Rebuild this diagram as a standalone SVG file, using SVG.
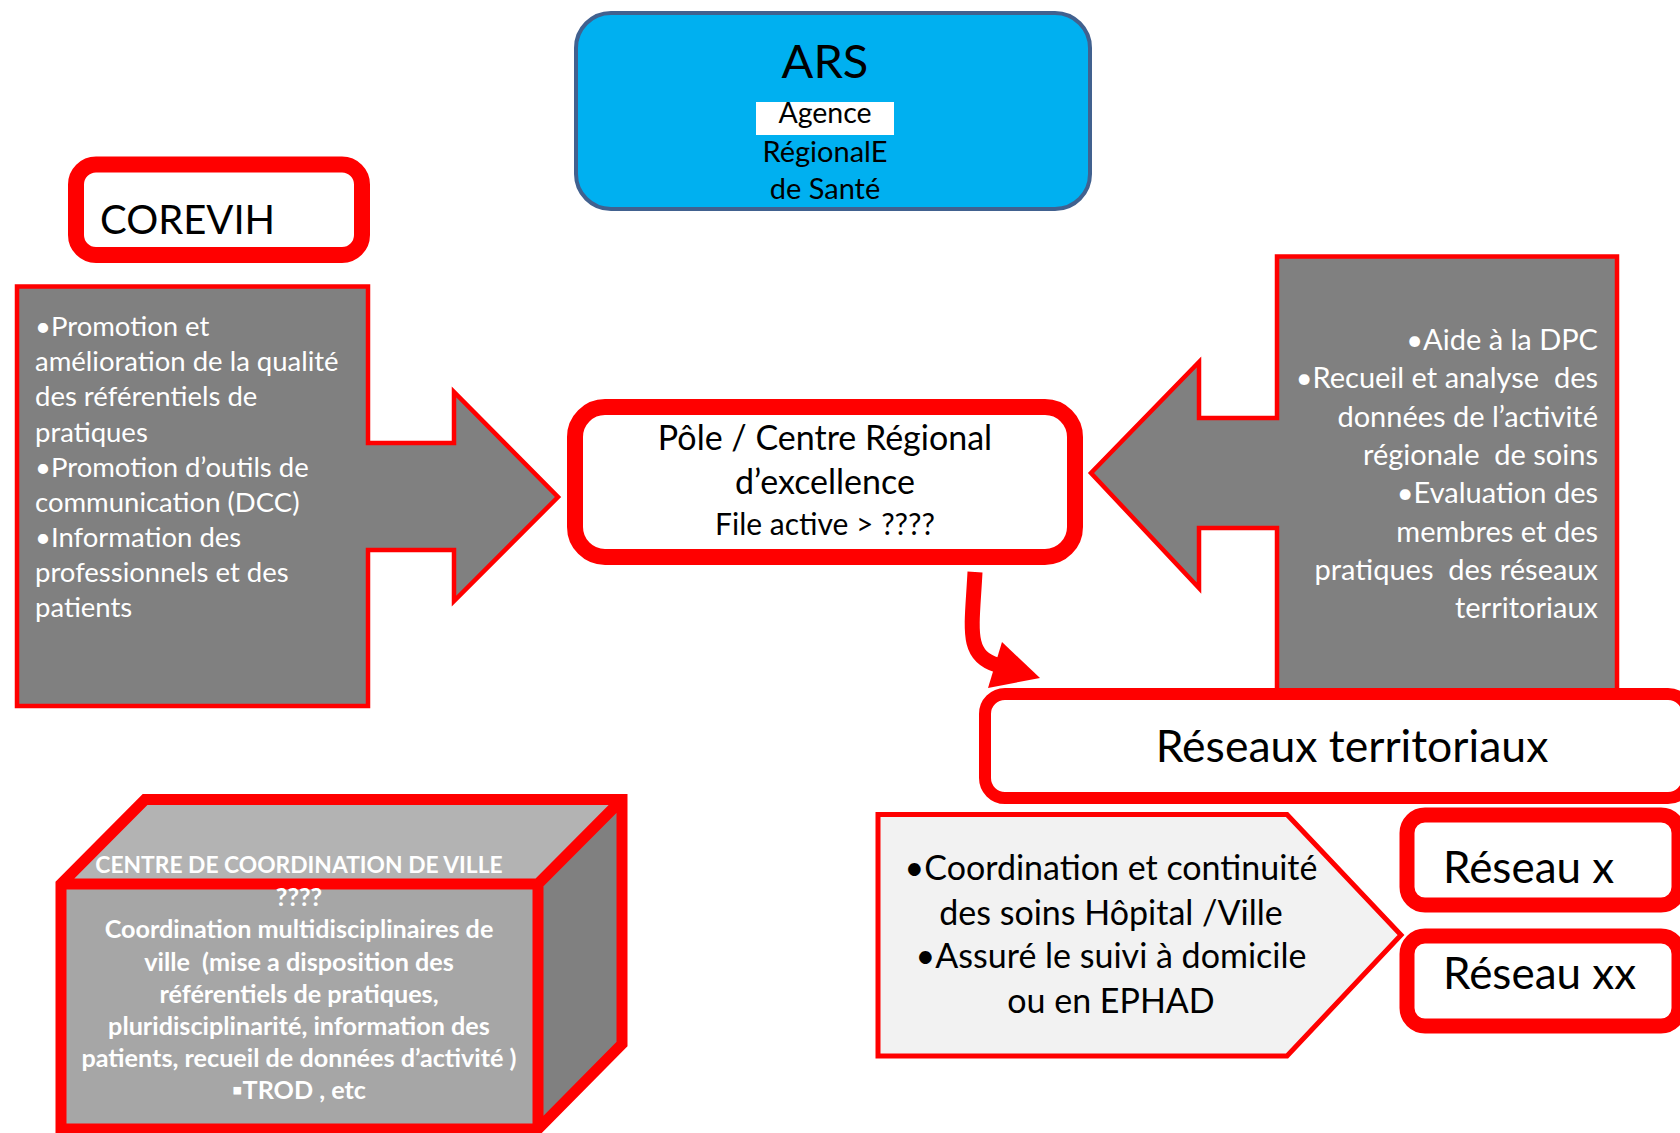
<svg xmlns="http://www.w3.org/2000/svg" width="1680" height="1133" viewBox="0 0 1680 1133">
<style>
text{font-family:Lato,"Liberation Sans",sans-serif;}
.wt{fill:#FFFFFF;}
.bk{fill:#000000;}
.gray{fill:#808080;stroke:#FF0000;stroke-width:4.5;stroke-linejoin:miter;}
.rbox{fill:#FFFFFF;stroke:#FF0000;}
.pre{white-space:pre;}
</style>
<rect width="1680" height="1133" fill="#FFFFFF"/>

<g id="ars">
<rect x="576" y="13" width="514" height="196" rx="35" fill="#00B0F0" stroke="#41618F" stroke-width="4"/>
<text x="825" y="78" font-size="47" text-anchor="middle" class="bk">ARS</text>
<rect x="756" y="102" width="138" height="33" fill="#FFFFFF"/>
<text x="825" y="123" font-size="28.5" text-anchor="middle" class="bk">Agence</text>
<text x="825" y="162" font-size="29" text-anchor="middle" class="bk">RégionalE</text>
<text x="825" y="199" font-size="29" text-anchor="middle" class="bk">de Santé</text>
</g>

<g id="corevih">
<rect x="76" y="164.5" width="286" height="90.5" rx="20" class="rbox" stroke-width="16"/>
<text x="100" y="234" font-size="40" class="bk">COREVIH</text>
</g>

<g id="corevih-missions">
<polygon class="gray" points="17,286.5 368,286.5 368,443 454,443 454,392 558,497 454,601 454,550 368,550 368,706 17,706"/>
<g font-size="27.5" class="wt">
<text x="35" y="336">•Promotion et</text>
<text x="35" y="371">amélioration de la qualité</text>
<text x="35" y="406">des référentiels de</text>
<text x="35" y="442">pratiques</text>
<text x="35" y="477">•Promotion d’outils de</text>
<text x="35" y="512">communication (DCC)</text>
<text x="35" y="547">•Information des</text>
<text x="35" y="582">professionnels et des</text>
<text x="35" y="617">patients</text>
</g>
</g>

<g id="pole">
<rect x="575" y="407" width="500" height="150" rx="30" class="rbox" stroke-width="16"/>
<text x="825" y="450" font-size="34" text-anchor="middle" class="bk">Pôle / Centre Régional</text>
<text x="825" y="494" font-size="34" text-anchor="middle" class="bk">d’excellence</text>
<text x="825" y="535" font-size="30" text-anchor="middle" class="bk">File active &gt; ????</text>
</g>

<g id="ars-missions">
<polygon class="gray" points="1277,256.5 1617,256.5 1617,700 1277,700 1277,528 1199,528 1199,588 1091,473 1199,362 1199,418 1277,418"/>
<g font-size="29" text-anchor="end" class="wt">
<text x="1598" y="350">•Aide à la DPC</text>
<text x="1598" y="388" class="pre" xml:space="preserve">•Recueil et analyse  des</text>
<text x="1598" y="427">données de l’activité</text>
<text x="1598" y="465" class="pre" xml:space="preserve">régionale  de soins</text>
<text x="1598" y="503">•Evaluation des</text>
<text x="1598" y="542">membres et des</text>
<text x="1598" y="580" class="pre" xml:space="preserve">pratiques  des réseaux</text>
<text x="1598" y="618">territoriaux</text>
</g>
</g>

<g id="connectors">
<path d="M975,572 C972,630 965,655 997,665" fill="none" stroke="#FF0000" stroke-width="15"/>
<polygon points="1002,642 1040,678 988,688" fill="#FF0000"/>
</g>

<g id="reseaux-territoriaux">
<rect x="985" y="694" width="703" height="104" rx="20" class="rbox" stroke-width="12"/>
<text x="1352" y="762" font-size="44.5" text-anchor="middle" class="bk">Réseaux territoriaux</text>
</g>

<g id="reseaux-missions">
<polygon points="878,814.5 1287,814.5 1401,935 1287,1056 878,1056" fill="#F2F2F2" stroke="#FF0000" stroke-width="5"/>
<g font-size="34" text-anchor="middle" class="bk">
<text x="1111" y="880">•Coordination et continuité</text>
<text x="1111" y="925">des soins Hôpital /Ville</text>
<text x="1111" y="968">•Assuré le suivi à domicile</text>
<text x="1111" y="1013">ou en EPHAD</text>
</g>
</g>

<g id="reseau-x">
<rect x="1407" y="815" width="272" height="90" rx="18" class="rbox" stroke-width="15"/>
<text x="1443" y="883" font-size="44" class="bk">Réseau x</text>
</g>

<g id="reseau-xx">
<rect x="1407" y="936" width="272" height="90" rx="18" class="rbox" stroke-width="15"/>
<text x="1443" y="989" font-size="44" class="bk">Réseau xx</text>
</g>

<g id="centre-coordination">
<polygon points="61,884 145,799.5 622,799.5 538,884" fill="#B3B3B3"/>
<polygon points="538,884 622,799.5 622,1044 538,1129" fill="#808080"/>
<rect x="61" y="884" width="477" height="245" fill="#A6A6A6"/>
<path d="M61,1129 L61,884 L145,799.5 L622,799.5 L622,1044 L538,1129 Z M61,884 L538,884 L622,799.5 M538,884 L538,1129" fill="none" stroke="#FF0000" stroke-width="11" stroke-linejoin="miter"/>
<g font-weight="bold" text-anchor="middle" class="wt">
<text x="299" y="873" font-size="22.8">CENTRE DE COORDINATION DE VILLE</text>
<g font-size="25.2">
<text x="299" y="906">????</text>
<text x="299" y="938">Coordination multidisciplinaires de</text>
<text x="299" y="971" class="pre" xml:space="preserve">ville  (mise a disposition des</text>
<text x="299" y="1003">référentiels de pratiques,</text>
<text x="299" y="1035">pluridisciplinarité, information des</text>
<text x="299" y="1067">patients, recueil de données d’activité )</text>
<text x="299" y="1099">▪TROD , etc</text>
</g>
</g>
</g>
</svg>
